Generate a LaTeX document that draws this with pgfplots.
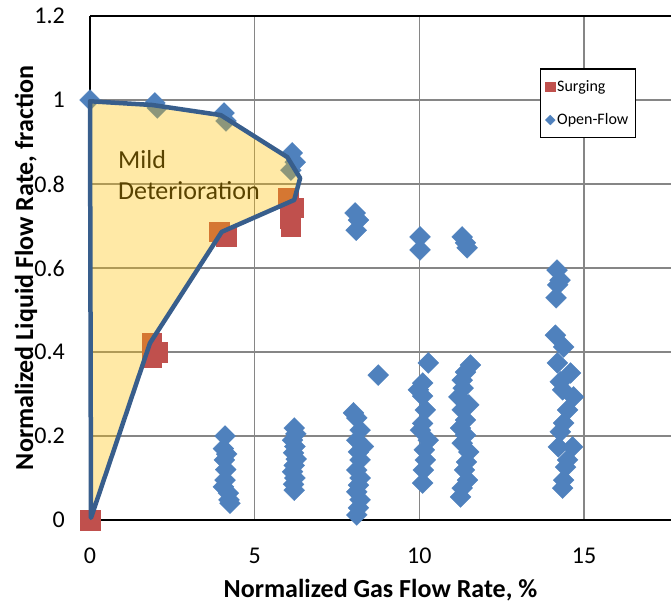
\documentclass[border=0pt]{standalone}
\usepackage{fontspec}
\setmainfont{Carlito}
\usepackage{pgfplots}
\pgfplotsset{compat=1.18}
\definecolor{surg}{RGB}{192,80,77}
\definecolor{openc}{RGB}{79,129,189}
\definecolor{fillc}{RGB}{255,192,0}
\definecolor{outl}{RGB}{56,94,140}
\definecolor{gridc}{RGB}{134,134,134}
\begin{document}
\begin{tikzpicture}
\begin{axis}[
 set layers,
 scale only axis, width=581pt, height=504pt,
 xmin=0, xmax=17.64, ymin=0, ymax=1.2,
 axis x line=box, axis y line=left,
 axis line style={-, black, line width=2.2pt},
 xtick={0,5,10,15}, xticklabels={0,5,10,15},
 ytick={0,0.2,0.4,0.6,0.8,1,1.2},
 yticklabels={0,0.2,0.4,0.6,0.8,1,1.2},
 major tick length=0pt,
 grid=major, grid style={gridc, line width=1.4pt},
 tick label style={font=\fontsize{24}{28}\selectfont, inner sep=0pt},
 yticklabel style={anchor=east, xshift=-25pt},
 xticklabel style={anchor=north, yshift=-28pt},
 every axis x label/.style={at={(axis description cs:0.5,0)}, anchor=center, yshift=-70pt, font=\fontsize{26}{30}\selectfont\bfseries},
 every axis y label/.style={at={(axis description cs:0,0.5)}, anchor=center, xshift=-64pt, rotate=90, font=\fontsize{26}{30}\selectfont\bfseries},
 xlabel={Normalized Gas Flow Rate, \%},
 ylabel={Normalized Liquid Flow Rate, fraction},
 clip=false,
 legend style={at={(axis cs:13.65,1.075)}, anchor=north west, draw=black, line width=1.5pt, font=\fontsize{16}{18}\selectfont, row sep=17pt, inner xsep=5pt, inner ysep=9pt},
 legend cell align=left,
]
\addlegendimage{only marks, mark=square*, mark size=4.7pt, mark options={line width=0.3pt}, color=surg}
\addlegendentry{Surging}
\addlegendimage{only marks, mark=square*, mark size=3.5pt, mark options={rotate=45, line width=0.3pt}, color=openc}
\addlegendentry{Open-Flow}

% Open-Flow
\addplot[only marks, mark=square*, mark size=7.4pt, color=openc, mark options={rotate=45, line width=0.3pt}, forget plot] coordinates {
(0,1.0) (1.97,0.993) (2.04,0.981) (4.07,0.969) (4.13,0.95)
(6.14,0.874) (6.23,0.852) (6.1,0.833)
(8.05,0.731) (8.15,0.714) (8.08,0.69)
(10.02,0.674) (10.02,0.643)
(11.3,0.674) (11.4,0.66) (11.45,0.648)
(14.18,0.595) (14.27,0.571) (14.2,0.56) (14.15,0.529)
(4.1,0.2) (4.05,0.17) (4.15,0.157) (4.08,0.143) (4.12,0.12) (4.1,0.095) (4.05,0.079) (4.2,0.064) (4.22,0.048) (4.25,0.04)
(6.2,0.219) (6.25,0.205) (6.15,0.19) (6.22,0.175) (6.18,0.16) (6.26,0.145) (6.2,0.13) (6.15,0.115) (6.22,0.1) (6.18,0.085) (6.2,0.071)
(8.0,0.255) (8.1,0.243) (8.2,0.214) (8.1,0.19) (8.3,0.175) (8.15,0.162) (8.2,0.143) (8.1,0.119) (8.2,0.1) (8.15,0.083) (8.1,0.067) (8.2,0.048) (8.15,0.029) (8.1,0.012)
(8.75,0.345)
(10.27,0.374) (10.1,0.326) (9.97,0.31) (10.1,0.295) (10.18,0.262) (10.1,0.23) (10.03,0.214) (10.27,0.19) (10.15,0.167) (10.18,0.143) (10.12,0.119) (10.1,0.088)
(11.55,0.369) (11.4,0.352) (11.3,0.333) (11.33,0.314) (11.2,0.293) (11.5,0.274) (11.3,0.262) (11.4,0.238) (11.25,0.219) (11.4,0.202) (11.3,0.183) (11.5,0.162) (11.43,0.138) (11.37,0.119) (11.46,0.095) (11.3,0.076) (11.25,0.055)
(14.13,0.44) (14.38,0.412) (14.19,0.374) (14.59,0.35) (14.28,0.329) (14.35,0.31) (14.68,0.293) (14.5,0.262) (14.38,0.231) (14.28,0.21) (14.65,0.174) (14.22,0.174) (14.5,0.143) (14.44,0.126) (14.38,0.095) (14.35,0.076)
};
% Surging
\addplot[only marks, mark=square*, mark size=9.7pt, color=surg, mark options={line width=0.3pt}, forget plot] coordinates {
(0,0) (1.88,0.421) (2.04,0.40) (1.88,0.388)
(3.92,0.686) (4.13,0.676)
(6.02,0.767) (6.17,0.743) (6.08,0.719) (6.1,0.698)
};
\node[anchor=base west, font=\fontsize{26}{30}\selectfont, text=black, inner sep=0pt] at (axis cs:0.85,0.838) {Mild};
\node[anchor=base west, font=\fontsize{26}{30}\selectfont, text=black, inner sep=0pt] at (axis cs:0.85,0.762) {Deterioration};
% Mild deterioration region
\addplot[on layer=axis foreground, draw=none, fill=fillc, fill opacity=0.35, forget plot] coordinates {
(0,0.997) (1.9,0.988) (3.97,0.964) (5.99,0.864) (6.38,0.814) (6.2,0.762) (4.0,0.686) (1.82,0.421) (0.03,0.005) (0,0.997)
};
\addplot[on layer=axis foreground, draw=outl, line width=4.5pt, line join=round, line cap=round, forget plot] coordinates {
(0,0.997) (1.9,0.988) (3.97,0.964) (5.99,0.864) (6.38,0.814) (6.2,0.762) (4.0,0.686) (1.82,0.421) (0.03,0.005) (0,0.997)
};
\coordinate (O) at (axis cs:0,0);
\end{axis}
\pgfresetboundingbox
\path[use as bounding box] (O) ++(-90pt,-84pt) rectangle ++(671pt,604pt);
\end{tikzpicture}
\end{document}
